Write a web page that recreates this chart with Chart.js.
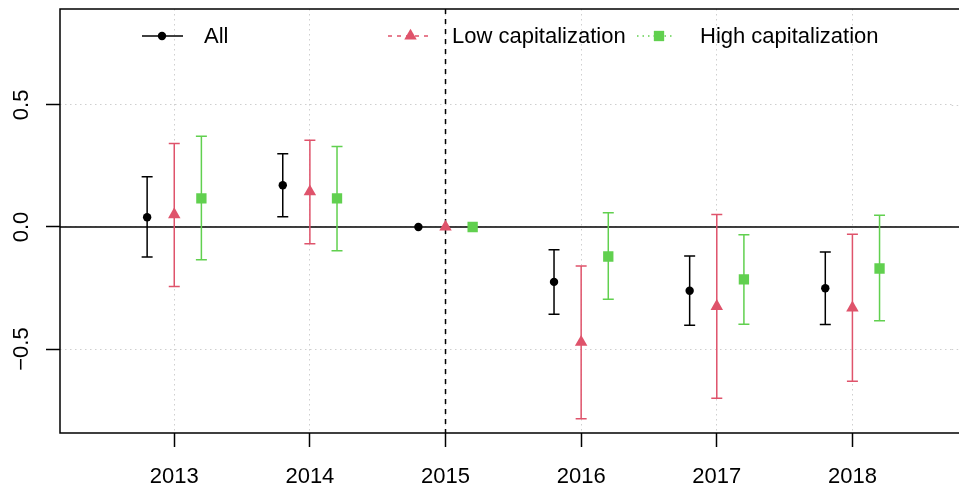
<!DOCTYPE html>
<html><head><meta charset="utf-8">
<script src="https://cdn.jsdelivr.net/npm/chart.js@4/dist/chart.umd.min.js"></script>
<style>html,body{margin:0;padding:0;background:#fff;overflow:hidden}canvas{display:block}</style>
</head><body><canvas id="c" width="959" height="487"></canvas>
<script>
const years = [2013, 2014, 2015, 2016, 2017, 2018];
const seriesNames = ['All', 'Low capitalization', 'High capitalization'];
const allEst  = [0.040, 0.171, 0, -0.225, -0.261, -0.251];
const allLo   = [-0.123, 0.042, 0, -0.358, -0.403, -0.399];
const allHi   = [0.206, 0.300, 0, -0.093, -0.119, -0.103];
const lowEst  = [0.051, 0.145, 0, -0.472, -0.325, -0.331];
const lowLo   = [-0.244, -0.069, 0, -0.786, -0.702, -0.632];
const lowHi   = [0.342, 0.355, 0, -0.160, 0.051, -0.030];
const highEst = [0.117, 0.117, 0, -0.121, -0.215, -0.170];
const highLo  = [-0.134, -0.097, 0, -0.296, -0.398, -0.384];
const highHi  = [0.372, 0.330, 0, 0.058, -0.032, 0.048];
const yTicks = [-0.5, 0, 0.5];
const yTickLabels = ['\u22120.5', '0.0', '0.5'];
const xTickLabels = ['2013', '2014', '2015', '2016', '2017', '2018'];
const eventYear = 2015;

const FONT = '"Liberation Sans", Arial, sans-serif';
const FS = 22;
const BLACK = '#000000', RED = '#DF536B', GREEN = '#61D04F', GRID = '#CFCFCF';
const GRID_DASH = [1.5, 3.5];
const offsets = [-0.2, 0, 0.2];

const series = [
  {name: seriesNames[0], est: allEst, lo: allLo, hi: allHi, color: BLACK, style: 'circle', r: 4.2, dash: []},
  {name: seriesNames[1], est: lowEst, lo: lowLo, hi: lowHi, color: RED, style: 'triangle', r: 7.2, dash: [4, 5]},
  {name: seriesNames[2], est: highEst, lo: highLo, hi: highHi, color: GREEN, style: 'rect', r: 7.3, dash: [1.5, 4]}
];

const datasets = series.map((s, si) => ({
  label: s.name,
  data: years.map((y, i) => ({x: y + offsets[si], y: s.est[i]})),
  backgroundColor: s.color,
  borderColor: s.color,
  borderWidth: 0,
  pointStyle: s.style,
  pointRadius: s.r,
  pointHoverRadius: s.r,
  showLine: false
}));

const decor = {
  id: 'decor',
  beforeDatasetsDraw(chart) {
    const ctx = chart.ctx, xs = chart.scales.x, ys = chart.scales.y, a = chart.chartArea;
    const W = chart.width;
    ctx.save();
    // continue horizontal dotted grid lines to the canvas edge (plot box runs past it)
    ctx.strokeStyle = GRID; ctx.lineWidth = 1; ctx.setLineDash(GRID_DASH);
    yTicks.forEach(v => {
      if (v === 0) return;
      const y = Math.round(ys.getPixelForValue(v)) + 0.5;
      ctx.beginPath(); ctx.moveTo(a.right, y); ctx.lineTo(W, y); ctx.stroke();
    });
    ctx.strokeStyle = BLACK; ctx.lineWidth = 1.5; ctx.setLineDash([]);
    const y0 = ys.getPixelForValue(0);
    ctx.beginPath(); ctx.moveTo(a.left, y0); ctx.lineTo(W, y0); ctx.stroke();
    const xe = xs.getPixelForValue(eventYear);
    ctx.lineWidth = 1.5; ctx.setLineDash([5, 5]);
    ctx.beginPath(); ctx.moveTo(xe, a.top); ctx.lineTo(xe, a.bottom); ctx.stroke();
    ctx.setLineDash([]);
    series.forEach((s, si) => {
      ctx.strokeStyle = s.color; ctx.lineWidth = 1.5;
      years.forEach((yr, i) => {
        if (s.lo[i] === s.hi[i]) return;
        const x = xs.getPixelForValue(yr + offsets[si]);
        const yl = ys.getPixelForValue(s.lo[i]), yh = ys.getPixelForValue(s.hi[i]);
        ctx.beginPath();
        ctx.moveTo(x, yl); ctx.lineTo(x, yh);
        ctx.moveTo(x - 5.5, yl); ctx.lineTo(x + 5.5, yl);
        ctx.moveTo(x - 5.5, yh); ctx.lineTo(x + 5.5, yh);
        ctx.stroke();
      });
    });
    ctx.restore();
  },
  afterDraw(chart) {
    const ctx = chart.ctx, ys = chart.scales.y, a = chart.chartArea;
    const W = chart.width;
    ctx.save();
    ctx.strokeStyle = BLACK; ctx.lineWidth = 1.5; ctx.setLineDash([]);
    ctx.beginPath();
    ctx.moveTo(W, a.top); ctx.lineTo(a.left, a.top);
    ctx.lineTo(a.left, a.bottom); ctx.lineTo(W, a.bottom);
    ctx.stroke();
    ctx.fillStyle = BLACK; ctx.font = FS + 'px ' + FONT;
    ctx.textAlign = 'center'; ctx.textBaseline = 'middle';
    yTicks.forEach((v, i) => {
      const y = ys.getPixelForValue(v);
      ctx.save(); ctx.translate(22, y); ctx.rotate(-Math.PI / 2);
      ctx.fillText(yTickLabels[i], 0, 0);
      ctx.restore();
    });
    const ly = 36;
    const items = [
      {lx: 142, len: 41, px: 162, tx: 204},
      {lx: 388, len: 41, px: 410.5, tx: 452},
      {lx: 637, len: 38, px: 659, tx: 700}
    ];
    series.forEach((s, si) => {
      const it = items[si];
      ctx.strokeStyle = s.color; ctx.lineWidth = 1.5; ctx.setLineDash(s.dash);
      ctx.beginPath(); ctx.moveTo(it.lx, ly); ctx.lineTo(it.lx + it.len, ly); ctx.stroke();
      ctx.setLineDash([]);
      ctx.fillStyle = s.color;
      Chart.helpers.drawPoint(ctx, {pointStyle: s.style, radius: s.r, borderWidth: 0}, it.px, ly);
      ctx.fillStyle = BLACK; ctx.textAlign = 'left'; ctx.textBaseline = 'middle';
      ctx.fillText(s.name, it.tx, ly + 1);
    });
    ctx.restore();
  }
};

new Chart(document.getElementById('c'), {
  type: 'scatter',
  data: {datasets},
  plugins: [decor],
  options: {
    responsive: false,
    animation: false,
    devicePixelRatio: 1,
    layout: {padding: {left: 0, right: 0, top: 9, bottom: 0}},
    plugins: {legend: {display: false}, tooltip: {enabled: false}},
    scales: {
      x: {
        type: 'linear', min: 2012.1576, max: 2018.732,
        afterBuildTicks(sc) { sc.ticks = years.map(v => ({value: v})); },
        afterFit(sc) { sc.height = 54; sc.paddingLeft = 0; sc.paddingRight = 0; },
        ticks: {
          color: BLACK, font: {family: FONT, size: FS}, padding: 17, maxRotation: 0, autoSkip: false,
          callback: (v) => xTickLabels[years.indexOf(v)] ?? ''
        },
        grid: {color: GRID, lineWidth: 1, tickColor: BLACK, tickLength: 14, tickWidth: 1.5, tickBorderDash: []},
        border: {display: false, dash: GRID_DASH}
      },
      y: {
        type: 'linear', min: -0.844, max: 0.893,
        afterBuildTicks(sc) { sc.ticks = yTicks.map(v => ({value: v})); },
        afterFit(sc) { sc.width = 60; sc.paddingTop = 0; sc.paddingBottom = 0; sc.paddingLeft = 0; sc.paddingRight = 0; },
        ticks: {display: false},
        grid: {color: GRID, lineWidth: 1, tickColor: BLACK, tickLength: 14, tickWidth: 1.5, tickBorderDash: []},
        border: {display: false, dash: GRID_DASH}
      }
    }
  }
});
</script>
</body></html>
